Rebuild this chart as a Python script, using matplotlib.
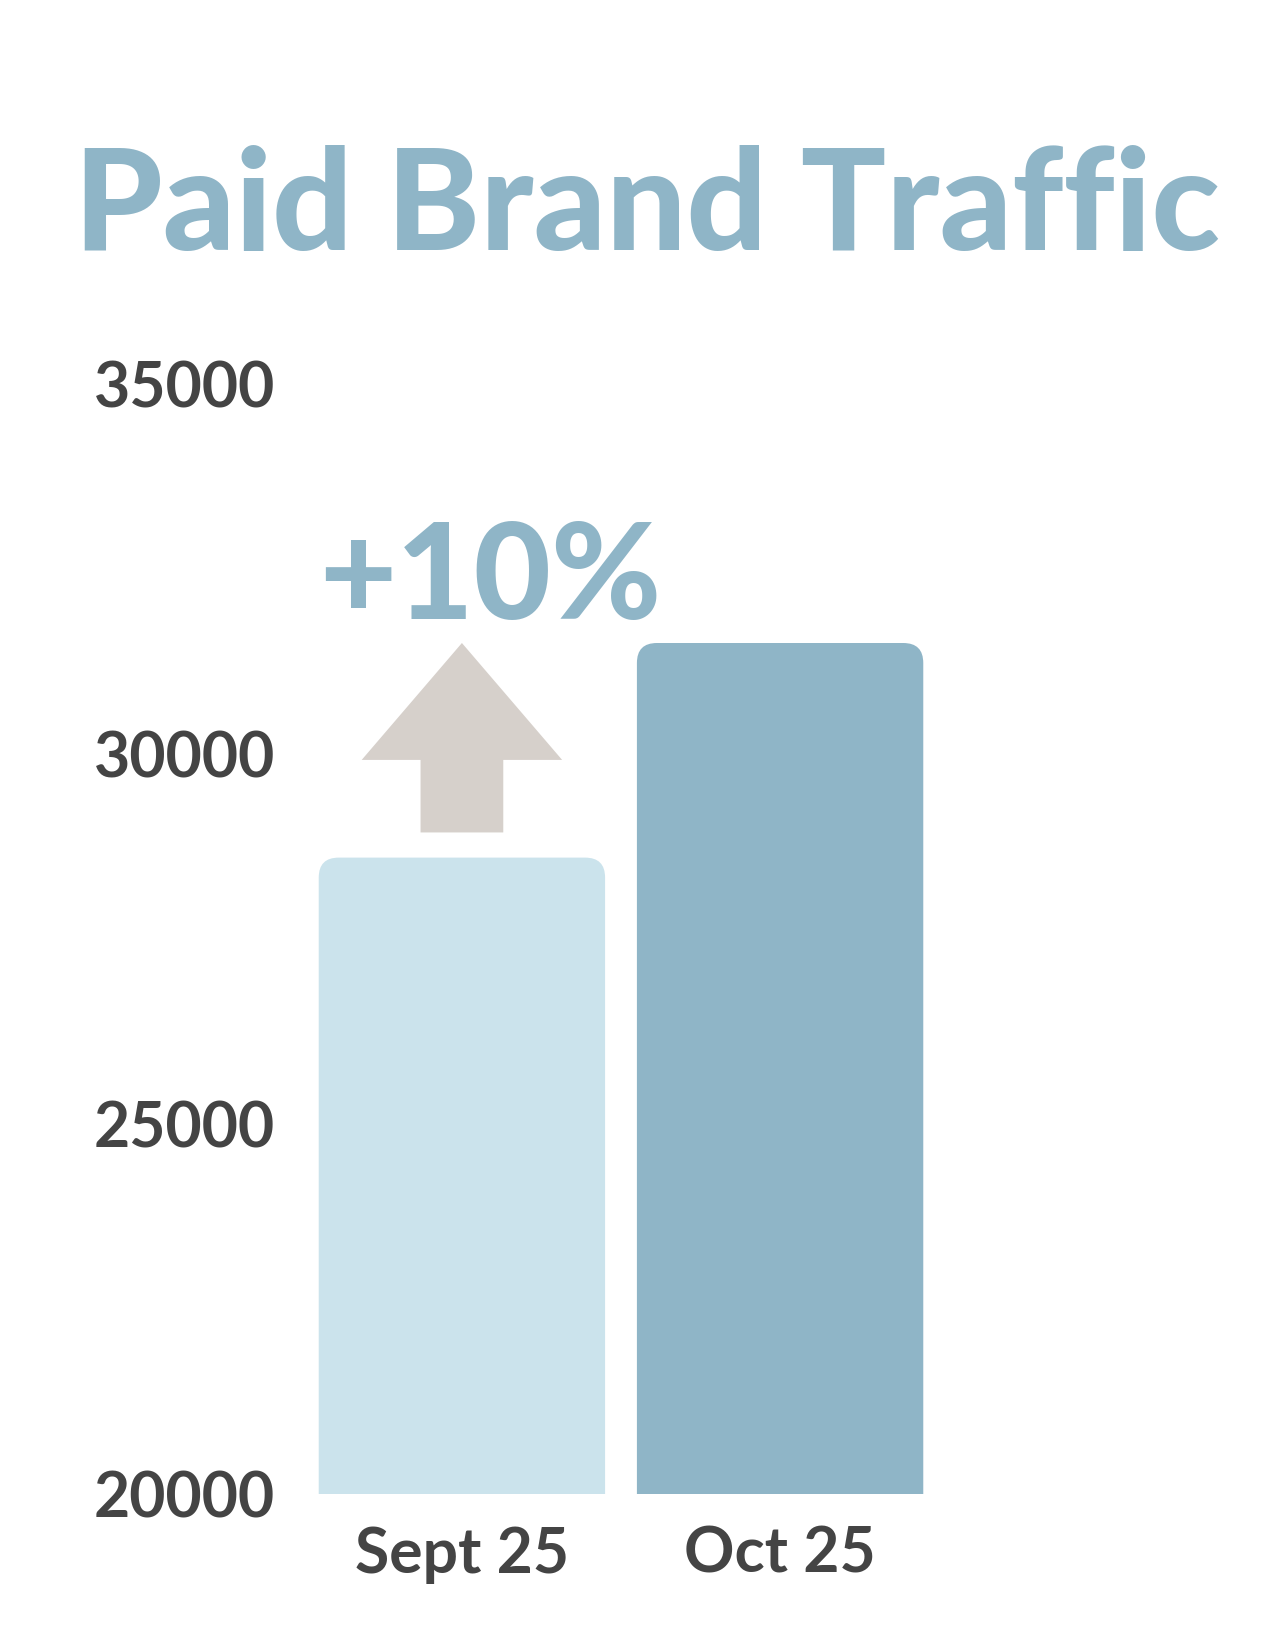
import matplotlib.pyplot as plt
from matplotlib.path import Path
from matplotlib.patches import PathPatch

months = ["Sept 25", "Oct 25"]
traffic = [28600, 31500]
y_ticks = [20000, 25000, 30000, 35000]

bar_colors = ["#CBE3EC", "#8FB5C7"]
title_color = "#8FB5C7"
arrow_color = "#D6D0CB"
text_color = "#444444"

W, H = 1275, 1650
fig = plt.figure(figsize=(W / 100, H / 100), dpi=100)
ax = fig.add_axes([271 / W, 156 / H, 700 / W, 1110 / H])
ax.set_xlim(-0.6, 1.6)
ax.set_ylim(20000, 35000)

# px per data unit, to get round corners of ~20 px
px_x = 700 / 2.2
px_y = 1110 / 15000
rx, ry = 20 / px_x, 20 / px_y

bars = ax.bar(range(len(months)), traffic, width=0.9, color=bar_colors)
for rect in bars:
    x0, w, top = rect.get_x(), rect.get_width(), rect.get_height()
    x1 = x0 + w
    verts = [(x0, 0), (x0, top - ry), (x0, top), (x0 + rx, top),
             (x1 - rx, top), (x1, top), (x1, top - ry), (x1, 0), (x0, 0)]
    codes = [Path.MOVETO, Path.LINETO, Path.CURVE3, Path.CURVE3,
             Path.LINETO, Path.CURVE3, Path.CURVE3, Path.LINETO, Path.CLOSEPOLY]
    ax.add_patch(PathPatch(Path(verts, codes), facecolor=rect.get_facecolor(),
                           edgecolor="none"))
    rect.set_visible(False)

# up arrow above the first bar
tip = traffic[1]
head_base = tip - 1580
shaft_bottom = traffic[0] + 340
hw, sw = 0.315, 0.13
ax.fill([0, hw, sw, sw, -sw, -sw, -hw],
        [tip, head_base, head_base, shaft_bottom, shaft_bottom, head_base, head_base],
        color=arrow_color, lw=0)

pct = round((traffic[1] / traffic[0] - 1) * 100)
ax.text(0.09, traffic[1] + 330, f"+{pct}%", ha="center", va="baseline",
        fontsize=96, fontweight="black", family="Lato", color=title_color)

ax.set_xticks(range(len(months)))
ax.set_xticklabels(months)
ax.set_yticks(y_ticks)
ax.set_yticklabels([str(t) for t in y_ticks])
for lab in ax.get_xticklabels() + ax.get_yticklabels():
    lab.set_family("Lato")
    lab.set_fontweight("bold")
    lab.set_fontsize(45)
    lab.set_color(text_color)
ax.tick_params(axis="both", length=0)
ax.tick_params(axis="x", pad=23)
ax.tick_params(axis="y", pad=-3)
for s in ax.spines.values():
    s.set_visible(False)

fig.text(647 / W, 1 - 250 / H, "Paid Brand Traffic", ha="center", va="baseline",
         fontsize=102, fontweight="black", family="Lato", color=title_color)

fig.savefig("out.png", dpi=100, facecolor="white")
